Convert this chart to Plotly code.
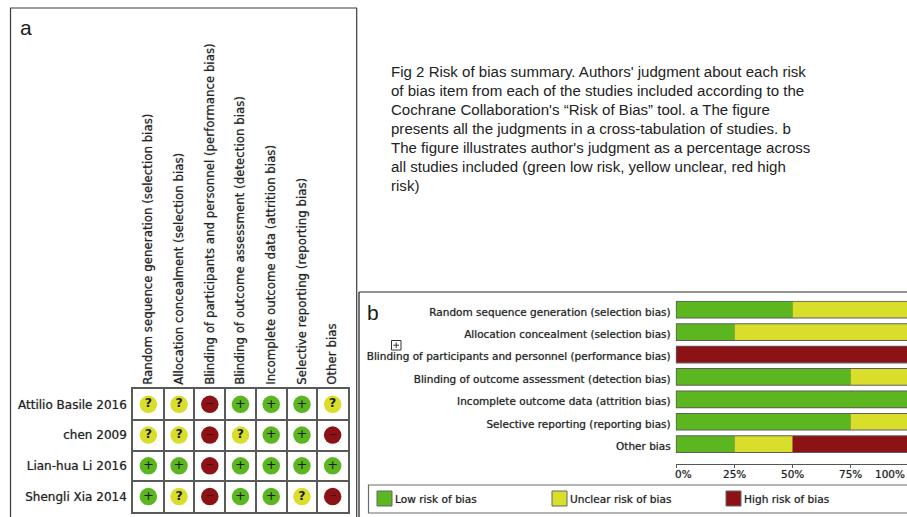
import plotly.graph_objects as go

W, H = 907, 517

criteria = [
    "Random sequence generation (selection bias)",
    "Allocation concealment (selection bias)",
    "Blinding of participants and personnel (performance bias)",
    "Blinding of outcome assessment (detection bias)",
    "Incomplete outcome data (attrition bias)",
    "Selective reporting (reporting bias)",
    "Other bias",
]
studies = ["Attilio Basile 2016", "chen 2009", "Lian-hua Li 2016", "Shengli Xia 2014"]
judgments = [
    ["?", "?", "-", "+", "+", "+", "?"],
    ["?", "?", "-", "?", "+", "+", "-"],
    ["+", "+", "-", "+", "+", "+", "+"],
    ["+", "?", "-", "+", "+", "?", "-"],
]
low_pct = [50, 25, 0, 75, 100, 75, 25]
unclear_pct = [50, 75, 0, 25, 0, 25, 25]
high_pct = [0, 0, 100, 0, 0, 0, 50]
pct_ticks = [0, 25, 50, 75]
pct_labels = ["\u00a0\u00a0\u00a0\u00a00%", "25%", "50%", "75%"]
legend_names = ["Low risk of bias", "Unclear risk of bias", "High risk of bias"]
caption_lines = [
    "Fig 2 Risk of bias summary. Authors' judgment about each risk",
    "of bias item from each of the studies included according to the",
    "Cochrane Collaboration's “Risk of Bias” tool. a The figure",
    "presents all the judgments in a cross-tabulation of studies. b",
    "The figure illustrates author's judgment as a percentage across",
    "all studies included (green low risk, yellow unclear, red high",
    "risk)",
]

GREEN, YELLOW, RED = "#5cb61f", "#d8de2a", "#8c1215"
INK = "#242424"
FONT = "DejaVu Sans"
SOFT = "0px 0px 1px rgba(30,30,30,0.55)"


def px(x):
    return x / W


def py(y):
    return 1 - y / H


fig = go.Figure()

# Panel a: cross-tabulation
styles = {
    "+": (GREEN, "+", 13, "normal", "#1c1c1c"),
    "?": (YELLOW, "?", 12.5, "bold", "#1c1c1c"),
    "-": (RED, "−", 10, "normal", "#3a0808"),
}
for key, (colour, glyph, size, weight, tcolour) in styles.items():
    xs, ys = [], []
    for study, row in zip(studies, judgments):
        for crit, val in zip(criteria, row):
            if val == key:
                xs.append(crit)
                ys.append(study)
    fig.add_trace(go.Scatter(
        x=xs, y=ys, mode="markers+text", text=[glyph] * len(xs),
        textposition="middle center",
        textfont=dict(family=FONT, size=size, color=tcolour, weight=weight),
        marker=dict(size=17.5, color=colour, line=dict(width=0)),
        showlegend=False, xaxis="x", yaxis="y", cliponaxis=False,
    ))

# Panel b: stacked percentages, drawn over a grey outline bar.
# Bars sit a little above their category centre, as the labels do not line up with them.
BAR_SHIFT = -0.098
OUTLINE_W, FILL_W = 0.79, 0.70
fig.add_trace(go.Bar(
    y=criteria, x=[100.5] * len(criteria), base=-0.5, orientation="h",
    width=OUTLINE_W, offset=BAR_SHIFT - OUTLINE_W / 2,
    marker=dict(color="#5e5e5e", line=dict(width=0)),
    showlegend=False, xaxis="x2", yaxis="y2",
))
base = [0] * len(criteria)
for name, vals, colour in zip(legend_names, [low_pct, unclear_pct, high_pct], [GREEN, YELLOW, RED]):
    fig.add_trace(go.Bar(
        y=criteria, x=vals, base=list(base), orientation="h",
        width=FILL_W, offset=BAR_SHIFT - FILL_W / 2, name=name,
        marker=dict(color=colour, line=dict(width=0)),
        showlegend=False, xaxis="x2", yaxis="y2",
    ))
    base = [b + v for b, v in zip(base, vals)]

shapes = [
    # panel frames
    dict(type="line", xref="paper", yref="paper", x0=px(10.5), x1=px(10.5), y0=py(8), y1=py(517),
         line=dict(color="#3a3a3a", width=1.2)),
    dict(type="line", xref="paper", yref="paper", x0=px(10), x1=px(357), y0=py(8), y1=py(8),
         line=dict(color="#3a3a3a", width=1.2)),
    dict(type="line", xref="paper", yref="paper", x0=px(356.7), x1=px(356.7), y0=py(8), y1=py(517),
         line=dict(color="#3a3a3a", width=1.2)),
    dict(type="line", xref="paper", yref="paper", x0=px(359), x1=px(359), y0=py(292), y1=py(517),
         line=dict(color="#3a3a3a", width=1.4)),
    dict(type="line", xref="paper", yref="paper", x0=px(359), x1=px(907), y0=py(292), y1=py(292),
         line=dict(color="#2a2a2a", width=1.2)),
    # legend frame
    dict(type="rect", xref="paper", yref="paper", x0=px(368.5), x1=px(912), y0=py(485), y1=py(513),
         line=dict(color="#6a6a6a", width=1.2), fillcolor="white"),
    # expand icon
    dict(type="rect", xref="paper", yref="paper", x0=px(391.5), x1=px(401), y0=py(340.5), y1=py(350),
         line=dict(color="#333333", width=1)),
    dict(type="line", xref="paper", yref="paper", x0=px(393.5), x1=px(399), y0=py(345.2), y1=py(345.2),
         line=dict(color="#333333", width=1)),
    dict(type="line", xref="paper", yref="paper", x0=px(396.2), x1=px(396.2), y0=py(342.5), y1=py(348),
         line=dict(color="#333333", width=1)),
]

annotations = [
    dict(text="a", x=px(18), y=py(28), xref="paper", yref="paper", xanchor="left", yanchor="middle",
         showarrow=False, font=dict(family="Liberation Sans", size=21, color="#1a1a1a")),
    dict(text="b", x=px(364.5), y=py(312.5), xref="paper", yref="paper", xanchor="left", yanchor="middle",
         showarrow=False, font=dict(family="Liberation Sans", size=21, color="#1a1a1a")),
    # the last tick label sits against the cropped page edge
    dict(text="100%", x=px(907), y=py(474), xref="paper", yref="paper", xanchor="right", yanchor="middle",
         showarrow=False, font=dict(family=FONT, size=10.5, color=INK, shadow=SOFT)),
]
for i, line in enumerate(caption_lines):
    annotations.append(dict(text=line, x=px(388.7), y=py(71.7 + 18.9 * i), xref="paper", yref="paper",
                            xanchor="left", yanchor="middle", align="left", showarrow=False,
                            font=dict(family="Liberation Sans", size=15.05, color="#222222")))
for name, colour, sx in zip(legend_names, [GREEN, YELLOW, RED], [377, 552, 726]):
    shapes.append(dict(type="rect", xref="paper", yref="paper", x0=px(sx), x1=px(sx + 15),
                       y0=py(491), y1=py(506), fillcolor=colour, line=dict(color="#666666", width=1)))
    annotations.append(dict(text=name, x=px(sx + 16), y=py(498.5), xref="paper", yref="paper",
                            xanchor="left", yanchor="middle", showarrow=False,
                            font=dict(family=FONT, size=10.6, color=INK, shadow=SOFT)))

fig.update_layout(
    width=W, height=H, autosize=False,
    margin=dict(l=0, r=0, t=0, b=0),
    paper_bgcolor="white", plot_bgcolor="white",
    barmode="overlay", shapes=shapes, annotations=annotations,
    font=dict(family=FONT, color=INK),
    xaxis=dict(
        domain=[px(133), px(348)], type="category", categoryorder="array", categoryarray=criteria,
        range=[-0.5, 6.5], side="top", anchor="y", tickson="boundaries", ticks="", tickangle=-90,
        showgrid=True, gridcolor="#5a5a5a", gridwidth=1.6, showline=True, mirror=True,
        linecolor="#5a5a5a", linewidth=1.6,
        tickfont=dict(size=11.8, family=FONT, color=INK, shadow=SOFT), automargin=False,
    ),
    yaxis=dict(
        domain=[py(512), py(389)], type="category", categoryorder="array", categoryarray=studies,
        range=[3.5, -0.5], anchor="x", tickson="boundaries", ticks="", ticklabelstandoff=2,
        showgrid=True, gridcolor="#5a5a5a", gridwidth=1.6, showline=True, mirror=True,
        linecolor="#5a5a5a", linewidth=1.6,
        tickfont=dict(size=12, family=FONT, color=INK, shadow=SOFT), automargin=False,
    ),
    xaxis2=dict(
        domain=[px(675.7), 1], range=[-0.43, 99.3], anchor="y2", tickvals=pct_ticks,
        ticktext=pct_labels, ticks="outside", ticklen=3, tickcolor="#555555",
        ticklabelstandoff=-3, showgrid=False, zeroline=False, showline=True,
        linecolor="#555555", linewidth=1.2,
        tickfont=dict(size=10.5, family=FONT, color=INK, shadow=SOFT), automargin=False,
    ),
    yaxis2=dict(
        domain=[py(464.3), py(300.7)], type="category", categoryorder="array", categoryarray=criteria,
        range=[6.80, -0.5], anchor="x2", ticks="", ticklabelstandoff=4, showgrid=False,
        showline=False, zeroline=False,
        tickfont=dict(size=10.5, family=FONT, color=INK, shadow=SOFT), automargin=False,
    ),
)

fig.write_html("out.html", config={"displayModeBar": False},
               post_script="document.body.style.margin='0';document.body.style.overflow='hidden';")
